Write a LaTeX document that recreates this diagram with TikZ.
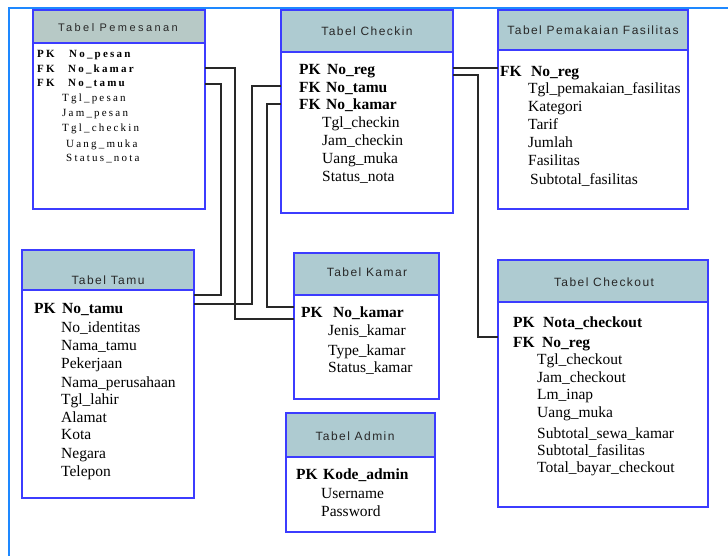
\documentclass[tikz,border=0pt]{standalone}
\usepackage{fontspec}
\setmainfont{Liberation Serif}
\newfontfamily\hdfont[LetterSpace=12]{Liberation Sans}
\newfontfamily\hdsmall[LetterSpace=22]{Liberation Sans}
\newfontfamily\pemfont[LetterSpace=20]{Liberation Serif}
\definecolor{tblblue}{RGB}{60,60,255}
\definecolor{headA}{RGB}{174,203,209}
\definecolor{headB}{RGB}{183,201,198}
\definecolor{framec}{RGB}{30,136,255}
\definecolor{connc}{RGB}{40,40,40}
\definecolor{titlec}{RGB}{40,40,40}
\tikzset{
  tbl/.style={draw=tblblue, line width=1.5pt, fill=white, anchor=north west, inner sep=0pt, outer sep=0pt},
  hdr/.style={draw=tblblue, line width=1.5pt, anchor=north west, inner sep=0pt, outer sep=0pt},
  ttl/.style={anchor=base, inner sep=0pt, text=titlec, font=\hdfont\fontsize{12}{14}\selectfont},
  rowtxt/.style={anchor=base west, inner sep=0pt, font=\fontsize{15.5}{18}\selectfont},
  keytxt/.style={rowtxt, font=\fontsize{15.5}{18}\selectfont\bfseries},
  pemrow/.style={anchor=base west, inner sep=0pt, font=\pemfont\fontsize{11}{13}\selectfont},
  pemkey/.style={pemrow, font=\pemfont\fontsize{11}{13}\selectfont\bfseries},
  conn/.style={draw=connc, line width=1.2pt},
  frame/.style={draw=framec, line width=2.5pt}
}
\begin{document}
\begin{tikzpicture}[x=1pt,y=-1pt]
\useasboundingbox (0,0) rectangle (728,556);
\fill[white] (0,0) rectangle (728,556);
\draw[frame] (9,556) -- (9,8) -- (728,8);

% ---- Tabel Pemesanan
\node[tbl, minimum width=172, minimum height=199] (pem) at (33,10) {};
\node[hdr, fill=headB, minimum width=172, minimum height=33] (pemh) at (33,10) {};
\node[ttl, font=\hdsmall\fontsize{11}{13}\selectfont] (pemt) at (118,32) {Tabel Pemesanan};
\node[pemkey] (pemk1) at (37,58) {PK}; \node[pemkey] (pemn1) at (69,58) {No\_pesan};
\node[pemkey] (pemk2) at (37,73) {FK}; \node[pemkey] (pemn2) at (68,73) {No\_kamar};
\node[pemkey] (pemk3) at (37,87) {FK}; \node[pemkey] (pemn3) at (68,87) {No\_tamu};
\node[pemrow] (pema1) at (62,102) {Tgl\_pesan};
\node[pemrow] (pema2) at (62,117) {Jam\_pesan};
\node[pemrow] (pema3) at (62,132) {Tgl\_checkin};
\node[pemrow] (pema4) at (66,148) {Uang\_muka};
\node[pemrow] (pema5) at (66,162) {Status\_nota};

% ---- Tabel Checkin
\node[tbl, minimum width=172, minimum height=203] (chk) at (281,10) {};
\node[hdr, fill=headA, minimum width=172, minimum height=42] (chkh) at (281,10) {};
\node[ttl] (chkt) at (367,36) {Tabel Checkin};
\node[keytxt] (chkk1) at (299,75) {PK}; \node[keytxt] (chkn1) at (327,75) {No\_reg};
\node[keytxt] (chkk2) at (299,93) {FK}; \node[keytxt] (chkn2) at (326,93) {No\_tamu};
\node[keytxt] (chkk3) at (299,110) {FK}; \node[keytxt] (chkn3) at (326,110) {No\_kamar};
\node[rowtxt] (chka1) at (322,128) {Tgl\_checkin};
\node[rowtxt] (chka2) at (322,146) {Jam\_checkin};
\node[rowtxt] (chka3) at (322,164) {Uang\_muka};
\node[rowtxt] (chka4) at (322,182) {Status\_nota};

% ---- Tabel Pemakaian Fasilitas
\node[tbl, minimum width=190, minimum height=199] (fas) at (498,10) {};
\node[hdr, fill=headA, minimum width=190, minimum height=40] (fash) at (498,10) {};
\node[ttl] (fast) at (593,35) {Tabel Pemakaian Fasilitas};
\node[keytxt] (fask1) at (500,77) {FK}; \node[keytxt] (fasn1) at (531,77) {No\_reg};
\node[rowtxt] (fasa1) at (528,94) {Tgl\_pemakaian\_fasilitas};
\node[rowtxt] (fasa2) at (528,112) {Kategori};
\node[rowtxt] (fasa3) at (528,130) {Tarif};
\node[rowtxt] (fasa4) at (528,148) {Jumlah};
\node[rowtxt] (fasa5) at (528,166) {Fasilitas};
\node[rowtxt] (fasa6) at (530,185) {Subtotal\_fasilitas};

% ---- Tabel Tamu
\node[tbl, minimum width=172, minimum height=248] (tam) at (22,250) {};
\node[hdr, fill=headA, minimum width=172, minimum height=40] (tamh) at (22,250) {};
\node[ttl] (tamt) at (108,284) {Tabel Tamu};
\node[keytxt] (tamk1) at (34,313) {PK}; \node[keytxt] (tamn1) at (62,313) {No\_tamu};
\node[rowtxt] (tama1) at (61,332) {No\_identitas};
\node[rowtxt] (tama2) at (61,350) {Nama\_tamu};
\node[rowtxt] (tama3) at (61,368) {Pekerjaan};
\node[rowtxt] (tama4) at (61,387) {Nama\_perusahaan};
\node[rowtxt] (tama5) at (61,404) {Tgl\_lahir};
\node[rowtxt] (tama6) at (61,422) {Alamat};
\node[rowtxt] (tama7) at (61,439) {Kota};
\node[rowtxt] (tama8) at (61,458) {Negara};
\node[rowtxt] (tama9) at (61,476) {Telepon};

% ---- Tabel Kamar
\node[tbl, minimum width=145, minimum height=146] (kam) at (294,253) {};
\node[hdr, fill=headA, minimum width=145, minimum height=42] (kamh) at (294,253) {};
\node[ttl] (kamt) at (367,276) {Tabel Kamar};
\node[keytxt] (kamk1) at (301,317) {PK}; \node[keytxt] (kamn1) at (333,317) {No\_kamar};
\node[rowtxt] (kama1) at (328,335) {Jenis\_kamar};
\node[rowtxt] (kama2) at (328,355) {Type\_kamar};
\node[rowtxt] (kama3) at (328,372) {Status\_kamar};

% ---- Tabel Admin
\node[tbl, minimum width=149, minimum height=119] (adm) at (286,413) {};
\node[hdr, fill=headA, minimum width=149, minimum height=44] (admh) at (286,413) {};
\node[ttl] (admt) at (355,440) {Tabel Admin};
\node[keytxt] (admk1) at (296,479) {PK}; \node[keytxt] (admn1) at (323,479) {Kode\_admin};
\node[rowtxt] (adma1) at (321,498) {Username};
\node[rowtxt] (adma2) at (321,516) {Password};

% ---- Tabel Checkout
\node[tbl, minimum width=210, minimum height=247] (cko) at (498,260) {};
\node[hdr, fill=headA, minimum width=210, minimum height=42] (ckoh) at (498,260) {};
\node[ttl] (ckot) at (604,286) {Tabel Checkout};
\node[keytxt] (ckok1) at (513,327) {PK}; \node[keytxt] (ckon1) at (543,327) {Nota\_checkout};
\node[keytxt] (ckok2) at (513,347) {FK}; \node[keytxt] (ckon2) at (542,347) {No\_reg};
\node[rowtxt] (ckoa1) at (537,364) {Tgl\_checkout};
\node[rowtxt] (ckoa2) at (537,382) {Jam\_checkout};
\node[rowtxt] (ckoa3) at (537,399) {Lm\_inap};
\node[rowtxt] (ckoa4) at (537,417) {Uang\_muka};
\node[rowtxt] (ckoa5) at (537,438) {Subtotal\_sewa\_kamar};
\node[rowtxt] (ckoa6) at (537,455) {Subtotal\_fasilitas};
\node[rowtxt] (ckoa7) at (537,472) {Total\_bayar\_checkout};

% ---- connectors
\draw[conn] (pem.east |- 0,68) -- (235,68) -- (235,319) -- (kam.west |- 0,319);
\draw[conn] (pem.east |- 0,84) -- (221,84) -- (221,295) -- (tam.east |- 0,295);
\draw[conn] (chk.west |- 0,86) -- (252,86) -- (252,304) -- (tam.east |- 0,304);
\draw[conn] (chk.west |- 0,104) -- (267,104) -- (267,307) -- (kam.west |- 0,307);
\draw[conn] (chk.east |- 0,68) -- (fas.west |- 0,68);
\draw[conn] (chk.east |- 0,75) -- (478,75) -- (478,337) -- (cko.west |- 0,337);
\end{tikzpicture}
\end{document}
